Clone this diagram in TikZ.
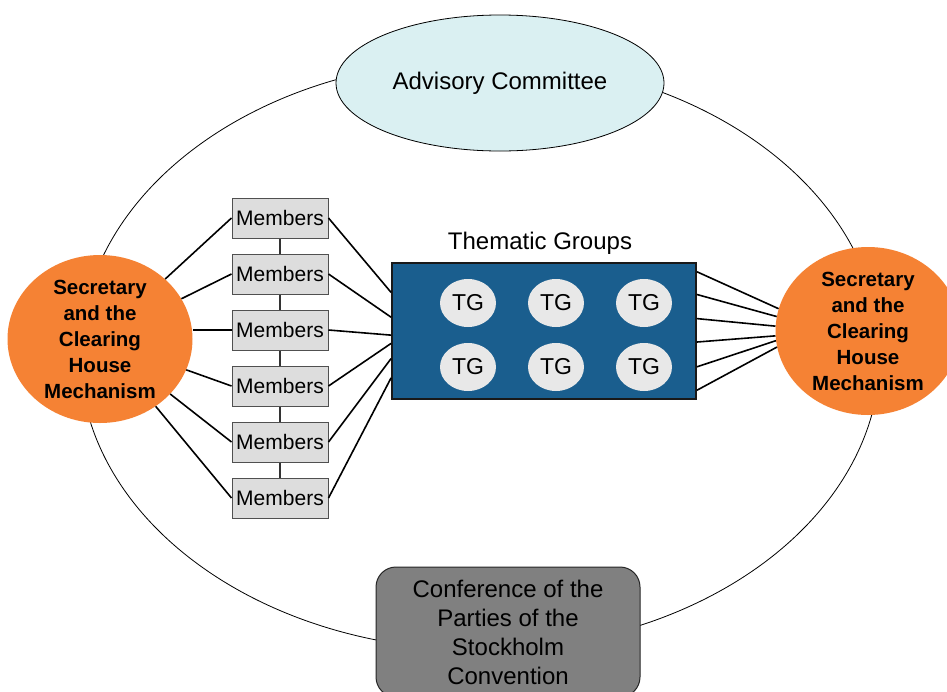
\documentclass[tikz,border=0pt]{standalone}
\usepackage{fontspec}
\setmainfont{Liberation Sans}
\usetikzlibrary{shapes.geometric,calc}
\definecolor{orng}{RGB}{245,130,52}
\definecolor{tgblue}{RGB}{26,94,142}
\definecolor{tglight}{RGB}{232,232,232}
\definecolor{memfill}{RGB}{221,221,221}
\definecolor{memdraw}{RGB}{80,80,80}
\definecolor{advfill}{RGB}{218,240,242}
\definecolor{confill}{RGB}{128,128,128}
\begin{document}
\begin{tikzpicture}[x=1pt,y=-1pt,
  outer/.style={ellipse,draw=black,line width=0.8pt,minimum width=800pt,minimum height=590pt,inner sep=0pt},
  advisory/.style={ellipse,draw=black,line width=0.8pt,fill=advfill,minimum width=328pt,minimum height=136pt,inner sep=0pt,font=\fontsize{24}{28}\selectfont},
  member/.style={rectangle,draw=memdraw,line width=1pt,fill=memfill,minimum width=96pt,minimum height=40pt,inner sep=0pt,font=\fontsize{21}{25}\selectfont},
  tgrect/.style={rectangle,draw=black!90,line width=1.8pt,fill=tgblue,minimum width=304pt,minimum height=136pt,inner sep=0pt},
  tg/.style={ellipse,fill=tglight,minimum width=56pt,minimum height=48pt,inner sep=0pt,font=\fontsize{23}{27}\selectfont},
  sec/.style={ellipse,fill=orng,minimum width=185pt,minimum height=168pt,inner sep=0pt,align=center,font=\fontsize{20.5}{26}\selectfont\bfseries},
  conf/.style={rectangle,rounded corners=20pt,draw=black!85,line width=1pt,fill=confill,minimum width=264pt,minimum height=130pt,inner sep=0pt,align=center,font=\fontsize{24}{29}\selectfont},
  label/.style={font=\fontsize{24}{28}\selectfont,inner sep=0pt},
  conn/.style={draw=black,line width=1.6pt},
  vconn/.style={draw=black!80,line width=1.2pt}]
\clip (0,0) rectangle (947,691);
\useasboundingbox (0,0) rectangle (947,691);
\fill[white] (0,0) rectangle (947,691);

\node[outer] (big) at (480,355) {};
\node[advisory] (adv) at (500,83) {Advisory Committee};
\node[conf] (cop) at (508,632) {Conference of the\\Parties of the\\Stockholm\\Convention};

\node[member] (m1) at (280,218) {Members};
\node[member] (m2) at (280,274) {Members};
\node[member] (m3) at (280,330) {Members};
\node[member] (m4) at (280,386) {Members};
\node[member] (m5) at (280,442) {Members};
\node[member] (m6) at (280,498) {Members};
\draw[vconn] (m1) -- (m2);
\draw[vconn] (m2) -- (m3);
\draw[vconn] (m3) -- (m4);
\draw[vconn] (m4) -- (m5);
\draw[vconn] (m5) -- (m6);

\node[label] (tglabel) at (540,243) {Thematic Groups};
\node[tgrect] (tgbox) at (544,331) {};
\node[tg] (t1) at (468,303) {TG};
\node[tg] (t2) at (556,303) {TG};
\node[tg] (t3) at (644,303) {TG};
\node[tg] (t4) at (468,367) {TG};
\node[tg] (t5) at (556,367) {TG};
\node[tg] (t6) at (644,367) {TG};

\node[sec] (L) at (100,339) {Secretary\\and the\\Clearing\\House\\Mechanism};
\node[sec] (R) at (868,331) {Secretary\\and the\\Clearing\\House\\Mechanism};

\draw[conn] (L) -- (m1.west);
\draw[conn] (L) -- (m2.west);
\draw[conn] (L.0 |- m3.west) -- (m3.west);
\draw[conn] (L) -- (m4.west);
\draw[conn] (L) -- (m5.west);
\draw[conn] (L) -- (m6.west);

\draw[conn] (m1.east) -- ($(tgbox.north west)!0.22!(tgbox.south west)$);
\draw[conn] (m2.east) -- ($(tgbox.north west)!0.40!(tgbox.south west)$);
\draw[conn] (m3.east) -- ($(tgbox.north west)!0.53!(tgbox.south west)$);
\draw[conn] (m4.east) -- ($(tgbox.north west)!0.59!(tgbox.south west)$);
\draw[conn] (m5.east) -- ($(tgbox.north west)!0.70!(tgbox.south west)$);
\draw[conn] (m6.east) -- ($(tgbox.north west)!0.84!(tgbox.south west)$);

\draw[conn] ($(tgbox.north east)!0.07!(tgbox.south east)$) -- (R.166);
\draw[conn] ($(tgbox.north east)!0.235!(tgbox.south east)$) -- (R.171);
\draw[conn] ($(tgbox.north east)!0.41!(tgbox.south east)$) -- (R.177);
\draw[conn] ($(tgbox.north east)!0.58!(tgbox.south east)$) -- (R.183);
\draw[conn] ($(tgbox.north east)!0.76!(tgbox.south east)$) -- (R.186);
\draw[conn] ($(tgbox.north east)!0.93!(tgbox.south east)$) -- (R.190);
\end{tikzpicture}
\end{document}
